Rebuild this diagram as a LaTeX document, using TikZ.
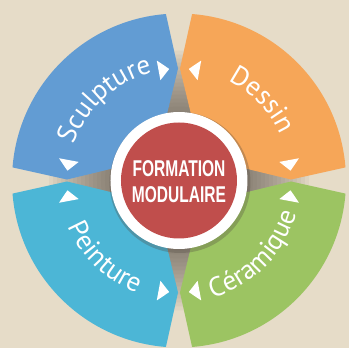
\documentclass[tikz,border=0pt]{standalone}
\usepackage{fontspec}
\setmainfont{PT Sans}
\newfontfamily\condfont[FakeStretch=0.68]{Liberation Sans}
\usetikzlibrary{decorations.text}

\definecolor{fond}{RGB}{230,220,200}
\definecolor{ombre}{RGB}{80,72,64}
\definecolor{sculptblue}{RGB}{98,156,211}
\definecolor{dessinorange}{RGB}{246,166,88}
\definecolor{ceramgreen}{RGB}{156,196,98}
\definecolor{peintblue}{RGB}{76,182,214}
\definecolor{centrered}{RGB}{192,78,76}

\begin{document}
\begin{tikzpicture}[
        x=0.02cm, y=0.02cm,
        label_arc/.style={decorate, decoration={text along path, text align=center,
            text={|\color{white}\fontsize{15.5}{15.5}\selectfont|#1}}},
        tri_mark/.style={fill=white}
    ]

    % Background and soft shadow
    \useasboundingbox (-179,-167.5) rectangle (170,180.5);
    \fill[fond] (-179,-167.5) rectangle (170,180.5);
    \foreach \r in {130,126,...,62}
        \fill[ombre, opacity=0.05] (0,0) circle (\r);

    % Four sectors, with a small triangle near each tip
    \foreach \rot/\col in {0/sculptblue, -90/dessinorange, -180/ceramgreen, -270/peintblue}
    {
        \fill[\col, rotate=\rot] (94.5:167) arc[start angle=94.5, end angle=175.5, radius=167]
            -- (179.5:112) -- (167.5:62) -- (102.5:62) -- (90.5:112) -- cycle;
        \fill[tri_mark, rotate=\rot] (95:112) -- (100.5:102) -- (100.5:122) -- cycle;
        \fill[tri_mark, rotate=\rot] (175:112) -- (169.5:102) -- (169.5:122) -- cycle;
    }

    % Labels along the arcs
    \path[label_arc=Sculpture] (170:111) arc[start angle=170, end angle=95, radius=111];
    \path[label_arc=Dessin] (80:111) arc[start angle=80, end angle=8, radius=111];
    \path[label_arc=Céramique] (-85:122) arc[start angle=-85, end angle=-5, radius=122];
    \path[label_arc=Peinture] (186:120) arc[start angle=186, end angle=266, radius=120];

    % Centre
    \fill[ombre, opacity=0.3] (1,-2) circle (70.5);
    \fill[white] (0,0) circle (68.5);
    \fill[centrered] (0,0) circle (58);
    \node[text=white, align=center, font=\condfont\bfseries\fontsize{13}{14.5}\selectfont]
        (titre) at (0,-1) {FORMATION\\MODULAIRE};

\end{tikzpicture}
\end{document}
